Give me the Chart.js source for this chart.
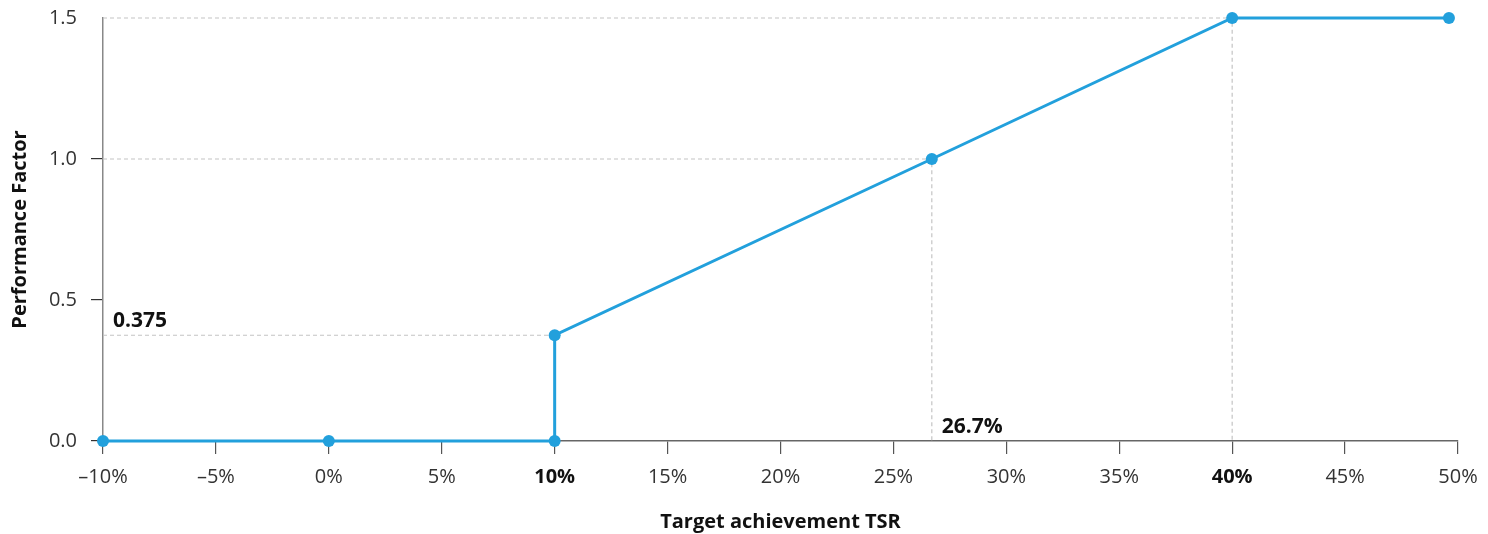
<!DOCTYPE html>
<html>
<head>
<meta charset="utf-8">
<script src="https://cdn.jsdelivr.net/npm/chart.js@4/dist/chart.umd.min.js"></script>
<style>
	html, body { margin: 0; padding: 0; background: #fff; }
	#wrap { width: 1488px; height: 534px; }
</style>
</head>
<body>
<div id="wrap"><canvas id="tsrChart"></canvas></div>
<script>
// performance curve
const tsrValues = [-10, 0, 10, 10, 26.7, 40, 49.6];
const factorValues = [0, 0, 0, 0.375, 1, 1.5, 1.5];

// axis ranges / ticks
const xMin = -10, xMax = 50, xStep = 5;
const yMin = 0, yMax = 1.5, yStep = 0.5;
const boldTicks = [10, 40];

// dashed guide lines
const guideTopX = [-10, 40, 40];
const guideTopY = [1.5, 1.5, 0];
const guideMidX = [-10, 26.7, 26.7];
const guideMidY = [1, 1, 0];
const guideLowX = [-10, 10];
const guideLowY = [0.375, 0.375];

// callout labels
const calloutText = ["0.375", "26.7%"];
const calloutX = [-10, 26.7];
const calloutY = [0.375, 0];

const blue = "#22a0dc";
const fontFamily = "'Open Sans', 'Noto Sans', sans-serif";

const toPoints = (xs, ys) => xs.map((x, i) => ({ x, y: ys[i] }));
const isBold = (c) => !!(c && c.tick && boldTicks.includes(c.tick.value));

const guide = (xs, ys) => ({
	data: toPoints(xs, ys),
	showLine: true,
	borderColor: "#c4c4c4",
	borderWidth: 1.2,
	borderDash: [4, 3],
	pointRadius: 0,
	fill: false,
	clip: false,
	order: 2,
});

const calloutPlugin = {
	id: "callouts",
	afterDatasetsDraw(chart) {
		const { ctx, scales } = chart;
		ctx.save();
		ctx.font = `bold 21px ${fontFamily}`;
		ctx.fillStyle = "#111";
		ctx.textBaseline = "alphabetic";
		ctx.textAlign = "left";
		for (let i = 0; i < calloutText.length; i++) {
			const px = scales.x.getPixelForValue(calloutX[i]);
			const py = scales.y.getPixelForValue(calloutY[i]);
			ctx.fillText(calloutText[i], px + 10, py - 8);
		}
		ctx.restore();
	},
};

new Chart("tsrChart", {
	type: "scatter",
	data: {
		datasets: [
			{
				data: toPoints(tsrValues, factorValues),
				showLine: true,
				borderColor: blue,
				backgroundColor: blue,
				borderWidth: 3,
				pointRadius: 6,
				pointBorderWidth: 0,
				clip: false,
				order: 1,
			},
			guide(guideTopX, guideTopY),
			guide(guideMidX, guideMidY),
			guide(guideLowX, guideLowY),
		],
	},
	options: {
		responsive: true,
		maintainAspectRatio: false,
		animation: false,
		layout: { padding: { left: 0, right: 30, top: 18, bottom: 0 } },
		plugins: { legend: { display: false }, tooltip: { enabled: false } },
		scales: {
			x: {
				type: "linear",
				min: xMin,
				max: xMax,
				afterFit: (s) => {
					s.height = 93;
					s.paddingLeft = 0;
					s.paddingRight = 0;
				},
				afterBuildTicks: (s) => {
					s.ticks = [];
					for (let v = xMin; v <= xMax; v += xStep) s.ticks.push({ value: v });
				},
				ticks: {
					padding: 11,
					color: (c) => isBold(c) ? "#111" : "#333",
					font: (c) => ({
						family: fontFamily,
						size: 20,
						weight: isBold(c) ? "bold" : "normal",
					}),
					callback: (v) => (v < 0 ? "\u2013" + Math.abs(v) : v) + "%",
				},
				grid: {
					drawOnChartArea: false,
					drawTicks: true,
					tickLength: 13,
					color: "#555",
					lineWidth: 1.2,
				},
				border: { display: true, color: "#666", width: 1.5 },
				title: {
					display: true,
					text: "Target achievement TSR",
					color: "#111",
					font: { family: fontFamily, size: 20, weight: "bold" },
					padding: { top: 0, bottom: 0 },
				},
			},
			y: {
				min: yMin,
				max: yMax,
				afterFit: (s) => {
					s.width = 103;
					s.paddingTop = 0;
					s.paddingBottom = 0;
				},
				afterBuildTicks: (s) => {
					s.ticks = [];
					for (let v = yMin; v <= yMax + 1e-9; v += yStep) s.ticks.push({ value: v });
				},
				ticks: {
					padding: 14,
					color: "#333",
					font: { family: fontFamily, size: 20 },
					callback: (v) => Number(v).toFixed(1),
				},
				grid: {
					drawOnChartArea: false,
					drawTicks: true,
					tickLength: 12,
					color: (c) => c && c.tick && c.tick.value === yMax ? "rgba(0,0,0,0)" : "#333",
					lineWidth: 1.2,
				},
				border: { display: true, color: "#888", width: 1.5 },
				title: {
					display: true,
					text: "Performance Factor",
					color: "#111",
					font: { family: fontFamily, size: 20, weight: "bold" },
					padding: { top: 8, bottom: 0 },
				},
			},
		},
	},
	plugins: [calloutPlugin],
});
</script>
</body>
</html>
